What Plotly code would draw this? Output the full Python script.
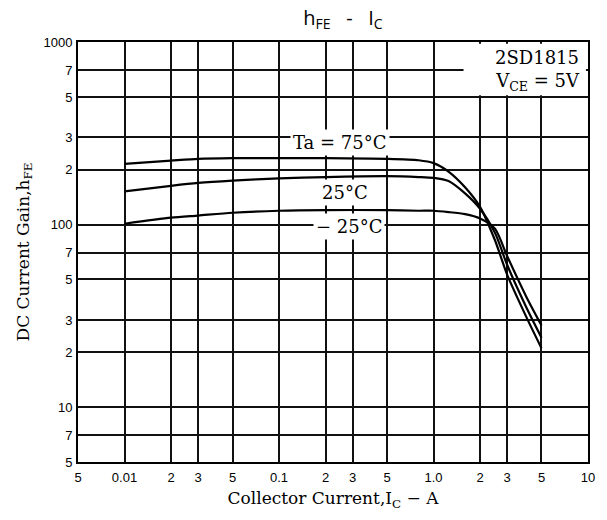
import numpy as np
import plotly.graph_objects as go

# Data (Collector current in A, hFE)
ic = [0.01, 0.02, 0.03, 0.05, 0.1, 0.2, 0.5, 0.8, 1.0, 1.25, 1.6, 2.0, 2.5, 3.0, 4.0, 5.0]
hfe_75 = [215, 224, 229, 231, 231, 231, 229, 225, 217, 195, 160, 125, 82, 53, 31, 21]
hfe_25 = [152, 163, 169, 174, 179, 182, 184, 182, 180, 173, 148, 122, 90, 60, 35, 24]
hfe_m25 = [101, 109, 112, 116, 119, 120, 120, 119, 119, 117, 114, 108, 95, 67, 40, 28]

x_tickvals = [0.005, 0.01, 0.02, 0.03, 0.05, 0.1, 0.2, 0.3, 0.5, 1, 2, 3, 5, 10]
x_ticktext = ["5", "0.01", "2", "3", "5", "0.1", "2", "3", "5", "1.0", "2", "3", "5", "10"]
y_tickvals = [5, 7, 10, 20, 30, 50, 70, 100, 200, 300, 500, 700, 1000]
y_ticktext = ["5", "7", "10", "2", "3", "5", "7", "100", "2", "3", "5", "7", "1000"]

curve_labels = [("Ta = 75°C", 0.248, 280), ("25°C", 0.267, 150), ("− 25°C", 0.283, 97.5)]

SERIF = "DejaVu Serif"
fig = go.Figure()
for ys in (hfe_75, hfe_25, hfe_m25):
    fig.add_trace(go.Scatter(x=ic, y=ys, mode="lines",
                             line=dict(color="black", width=2.2, shape="spline", smoothing=0.7),
                             showlegend=False, hoverinfo="skip"))

axis_common = dict(type="log", showgrid=True, gridcolor="#111", gridwidth=1.5,
                   showline=True, linecolor="black", linewidth=2, mirror=True,
                   ticks="", zeroline=False,
                   tickfont=dict(family="Liberation Sans", size=13, color="black"))
fig.update_xaxes(**axis_common, range=[np.log10(0.005), 1],
                 tickvals=x_tickvals, ticktext=x_ticktext, ticklabelstandoff=2,
                 title=dict(text="Collector Current,I<sub>C</sub> − A",
                            font=dict(family=SERIF, size=17, color="black"), standoff=9))
fig.update_yaxes(**axis_common, range=[np.log10(5), 3],
                 tickvals=y_tickvals, ticktext=y_ticktext, ticklabelstandoff=1,
                 title=dict(text="DC Current Gain,h<sub>FE</sub>",
                            font=dict(family=SERIF, size=17, color="black"), standoff=10))

# white box for the part-number label
fig.add_shape(type="rect", xref="paper", yref="paper", x0=0.756, x1=0.996, y0=0.873, y1=0.996,
              fillcolor="white", line=dict(width=0), layer="above")
fig.add_annotation(xref="paper", yref="paper", x=0.988, y=0.994, xanchor="right", yanchor="top",
                   text="2SD1815<br>V<sub>CE</sub> = 5V", showarrow=False, align="right",
                   font=dict(family=SERIF, size=18, color="black"))

for txt, xv, yv in curve_labels:
    fig.add_annotation(x=np.log10(xv), y=np.log10(yv), text=txt, showarrow=False,
                       bgcolor="white", borderpad=2,
                       font=dict(family=SERIF, size=18, color="black"))

fig.update_layout(
    width=607, height=520,
    margin=dict(l=78, r=12, t=42, b=58),
    paper_bgcolor="white", plot_bgcolor="white",
    title=dict(text="h<sub>FE</sub>   -   I<sub>C</sub>", x=0.565, xanchor="center", y=0.965, yanchor="middle",
               font=dict(family="Open Sans", size=20, color="black")),
)
fig.write_html("out.html")
